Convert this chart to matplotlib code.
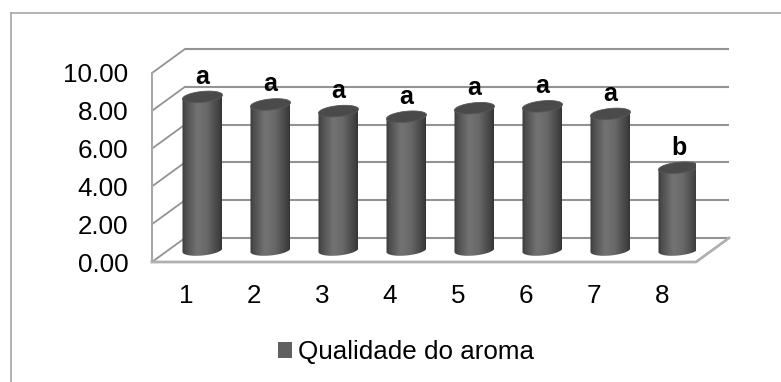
import numpy as np
import matplotlib
matplotlib.use('Agg')
import matplotlib.pyplot as plt
from matplotlib.patches import Polygon, Patch
from matplotlib.lines import Line2D

tratamentos = ['1', '2', '3', '4', '5', '6', '7', '8']
aroma = [8.1, 7.7, 7.35, 7.05, 7.5, 7.6, 7.2, 4.35]
letras = ['a', 'a', 'a', 'a', 'a', 'a', 'a', 'b']
y_ticks = [0, 2, 4, 6, 8, 10]

plt.rcParams['font.family'] = ['Liberation Sans', 'DejaVu Sans']

W, H = 781, 382
fig = plt.figure(figsize=(W / 100, H / 100), dpi=100)
ax = fig.add_axes([152 / W, 120 / H, 544 / W, 189 / H])
ax.set_xlim(0.5, len(aroma) + 0.5)
ax.set_ylim(0, 10)

# profundidade do efeito 3D (em unidades dos eixos)
dx, dy = 0.485, 1.27
x0, x1 = 0.5, len(aroma) + 0.5
grid_cor = '#939393'

# parede do fundo e parede lateral
for v in y_ticks:
    ax.plot([x0 + dx, x1 + dx], [v + dy, v + dy], color=grid_cor, lw=1.5,
            clip_on=False, zorder=1, solid_capstyle='butt')
    ax.plot([x0, x0 + dx], [v, v + dy], color=grid_cor, lw=1.3,
            clip_on=False, zorder=1)
ax.plot([x0, x0], [0, 10], color='#a8a8a8', lw=1.5, clip_on=False, zorder=1)
# piso
ax.plot([x0, x1, x1 + dx], [0, 0, dy], color='#b0b0b0', lw=2,
        clip_on=False, zorder=1)

# cilindros
hw = 0.294
eh = 0.29
s = 0.1
u = np.linspace(0, 1, 200)
grad = np.interp(u, [0, 0.12, 0.38, 0.62, 0.88, 1],
                 [0.23, 0.32, 0.45, 0.41, 0.28, 0.21])
t = np.linspace(0, -np.pi, 60)
tt = np.linspace(0, 2 * np.pi, 120)

for i, v in enumerate(aroma):
    cx = i + 1 + dx / 2
    base = dy / 2
    top = base + v
    xs = cx + hw * np.cos(t)
    ys = base + eh * np.sin(t) + s * np.cos(t)
    pts = [(cx + hw, top + s)] + list(zip(xs, ys)) + [(cx - hw, top - s)]
    corpo = Polygon(pts, closed=True, transform=ax.transData)
    im = ax.imshow(grad[np.newaxis, :], extent=[cx - hw, cx + hw, base - eh - s, top + eh],
                   aspect='auto', cmap='gray', vmin=0, vmax=1,
                   interpolation='bilinear', zorder=3)
    im.set_clip_path(corpo)
    tampa = Polygon(list(zip(cx + hw * np.cos(tt), top + eh * np.sin(tt) + s * np.cos(tt))),
                    closed=True, facecolor='#4a4a4a', edgecolor='#585858', lw=0.6,
                    zorder=4)
    ax.add_patch(tampa)
    ax.annotate(letras[i], (cx, top), xytext=(0, 14.5), textcoords='offset points',
                ha='center', va='center', fontsize=18, fontweight='bold', zorder=5)

ax.set_xlim(x0, x1)
ax.set_ylim(0, 10)
ax.set_xticks(range(1, len(aroma) + 1), tratamentos)
ax.set_yticks(y_ticks, [f'{v:.2f}' for v in y_ticks])
ax.tick_params(axis='both', length=0, labelsize=18.7)
ax.tick_params(axis='y', pad=17)
ax.tick_params(axis='x', pad=15.5)
for sp in ax.spines.values():
    sp.set_visible(False)
ax.patch.set_visible(False)

fig.legend(handles=[Patch(facecolor='#606060')], labels=['Qualidade do aroma'],
           loc='center', bbox_to_anchor=(406 / W, 1 - 352 / H), frameon=False,
           fontsize=18.7, handlelength=0.55, handleheight=0.55, handletextpad=0.25)

# moldura da área do gráfico
fig.add_artist(Line2D([10.5 / W, 10.5 / W], [0, 1 - 13 / H], transform=fig.transFigure,
                      color='#a6a6a6', lw=1.2))
fig.add_artist(Line2D([10.5 / W, 1], [1 - 13 / H, 1 - 13 / H], transform=fig.transFigure,
                      color='#a6a6a6', lw=1.2))

fig.savefig('out.png', dpi=100)
